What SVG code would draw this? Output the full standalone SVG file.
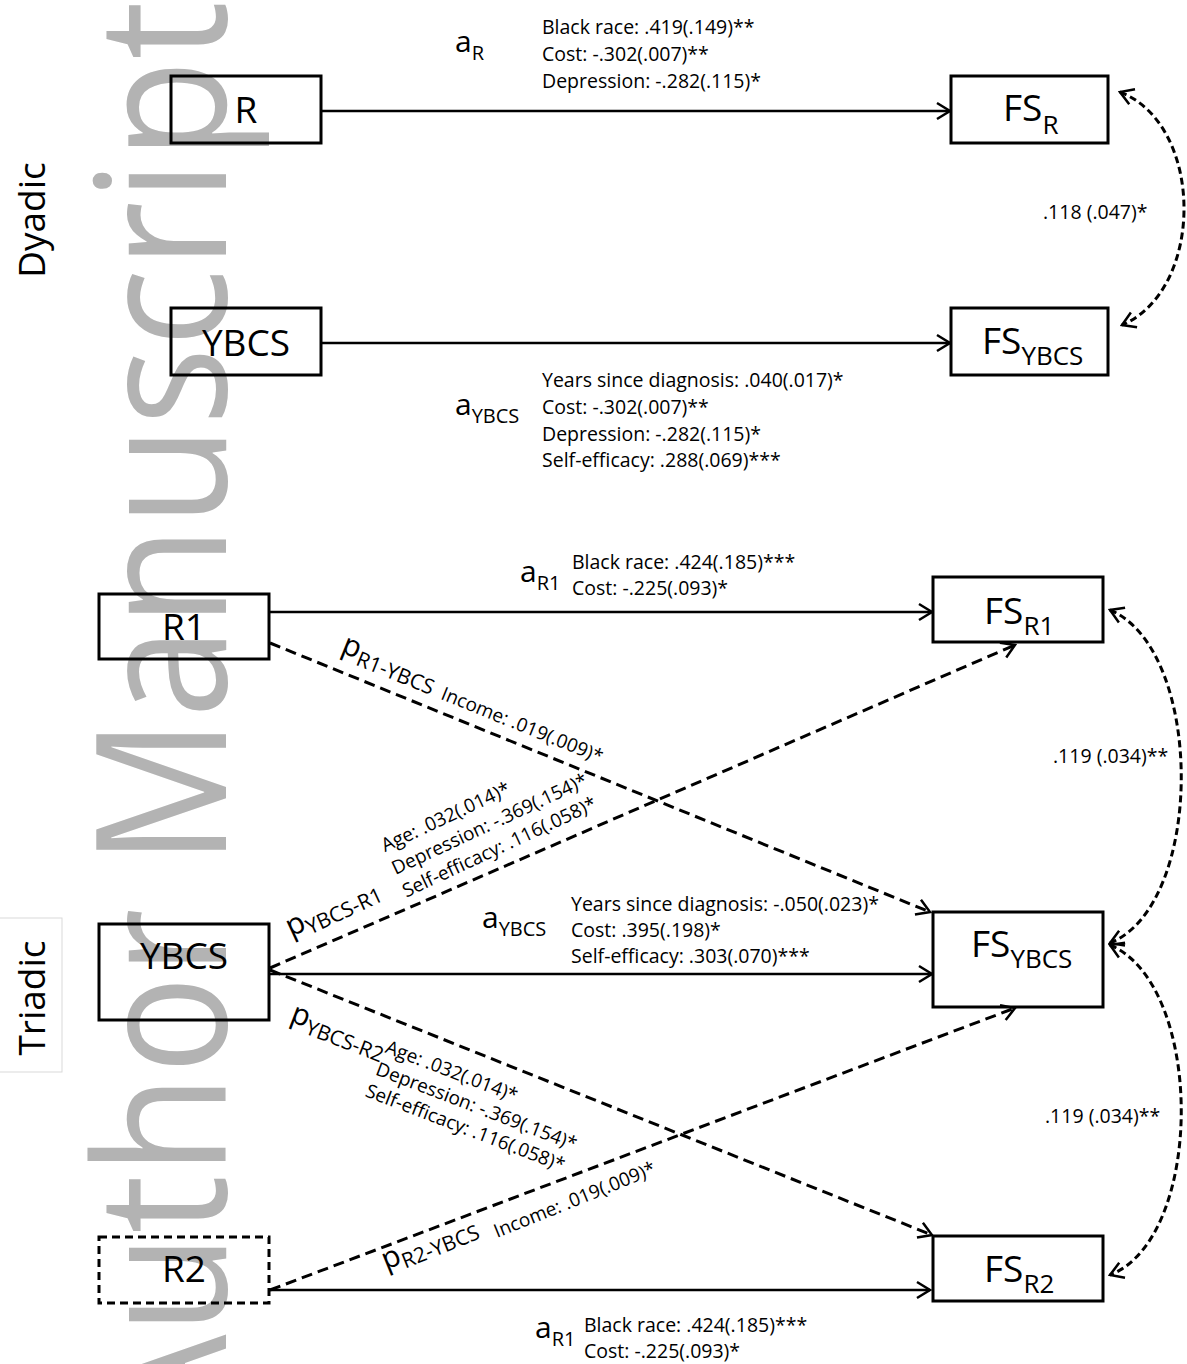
<svg xmlns="http://www.w3.org/2000/svg" width="1187" height="1364" viewBox="0 0 1187 1364">
<style>
.t { font-family: "Open Sans", "Liberation Sans", sans-serif; fill: #000; }
.big { font-size: 37px; }
.fsub { font-size: 26px; }
.lab { font-size: 19.5px; }
.a { font-size: 30px; }
.sub { font-size: 20px; }
.psub { font-size: 21px; }
.rl { font-size: 19px; }
.n { fill: none; stroke: #000; stroke-width: 3; }
.nd { fill: none; stroke: #000; stroke-width: 3; stroke-dasharray: 8 5; }
.solid { fill: none; stroke: #000; stroke-width: 2.5; marker-end: url(#ah); }
.dash { fill: none; stroke: #000; stroke-width: 3; stroke-dasharray: 11 6; marker-end: url(#ah); }
.arc { fill: none; stroke: #000; stroke-width: 3; stroke-dasharray: 7 4; marker-start: url(#ah2); marker-end: url(#ah2); }
.wm { font-family: "Open Sans", "Liberation Sans", sans-serif; fill: #b3b3b3; font-size: 165px; }
</style>
<defs>
<marker id="ah" viewBox="-16 -10 18 20" refX="0" refY="0" markerWidth="18" markerHeight="20" markerUnits="userSpaceOnUse" orient="auto">
<path d="M-13,-8 L0,0 L-13,8" fill="none" stroke="#000" stroke-width="2.5" stroke-dasharray="none"/>
</marker>
<marker id="ah2" viewBox="-16 -10 18 20" refX="0" refY="0" markerWidth="18" markerHeight="20" markerUnits="userSpaceOnUse" orient="auto-start-reverse">
<path d="M-13,-8 L0,0 L-13,8" fill="none" stroke="#000" stroke-width="2.5" stroke-dasharray="none"/>
</marker>
</defs>
<rect width="1187" height="1364" fill="#fff"/>
<g id="watermark">
<text class="wm" transform="translate(226,1438) rotate(-90) scale(1,1.1)" textLength="1437" lengthAdjust="spacingAndGlyphs">Author Manuscript</text>
</g>
<g id="section-labels">
<text class="t big" text-anchor="middle" transform="translate(45,220) rotate(-90)">Dyadic</text>
<rect x="-1" y="918" width="63" height="154" fill="none" stroke="#d9d9d9" stroke-width="1"/>
<text class="t big" text-anchor="middle" transform="translate(45,998) rotate(-90)">Triadic</text>
</g>
<g id="connectors">
<line class="solid" x1="321" y1="111" x2="950" y2="111"/>
<line class="solid" x1="321" y1="343" x2="950" y2="343"/>
<path class="arc" d="M1120,92 C1205,125 1205,290 1122,325"/>
<line class="solid" x1="269" y1="612" x2="932" y2="612"/>
<line class="solid" x1="269" y1="974" x2="932" y2="974"/>
<line class="solid" x1="269" y1="1290" x2="930" y2="1290"/>
<line class="dash" x1="270" y1="643" x2="930" y2="912"/>
<line class="dash" x1="270" y1="968" x2="1015" y2="645"/>
<line class="dash" x1="270" y1="970" x2="932" y2="1235"/>
<line class="dash" x1="270" y1="1290" x2="1015" y2="1008"/>
<path class="arc" d="M1110,610 C1205,650 1205,905 1110,943"/>
<path class="arc" d="M1110,945 C1205,985 1205,1238 1110,1275"/>
</g>
<g id="node-R"><rect class="n" x="171" y="76" width="150" height="67"/><text class="t big" x="246" y="123" text-anchor="middle">R</text></g>
<g id="node-YBCS-d"><rect class="n" x="171" y="308" width="150" height="67"/><text class="t big" x="246" y="356" text-anchor="middle">YBCS</text></g>
<g id="node-FSR"><rect class="n" x="951" y="76" width="157" height="67"/><text class="t big" x="1003" y="121">FS<tspan class="fsub" dy="13">R</tspan></text></g>
<g id="node-FSYBCS-d"><rect class="n" x="951" y="308" width="157" height="67"/><text class="t big" x="982" y="354">FS<tspan class="fsub" dy="11">YBCS</tspan></text></g>
<g id="node-R1"><rect class="n" x="99" y="594" width="170" height="65"/><text class="t big" x="184" y="640" text-anchor="middle">R1</text></g>
<g id="node-YBCS-t"><rect class="n" x="99" y="924" width="170" height="96"/><text class="t big" x="184" y="969" text-anchor="middle">YBCS</text></g>
<g id="node-R2"><rect class="nd" x="99" y="1237" width="170" height="66"/><text class="t big" x="184" y="1282" text-anchor="middle">R2</text></g>
<g id="node-FSR1"><rect class="n" x="933" y="577" width="170" height="65"/><text class="t big" x="984" y="624">FS<tspan class="fsub" dy="11">R1</tspan></text></g>
<g id="node-FSYBCS-t"><rect class="n" x="933" y="912" width="170" height="95"/><text class="t big" x="971" y="957">FS<tspan class="fsub" dy="11">YBCS</tspan></text></g>
<g id="node-FSR2"><rect class="n" x="933" y="1236" width="170" height="65"/><text class="t big" x="984" y="1282">FS<tspan class="fsub" dy="11">R2</tspan></text></g>
<g id="labels">
<text class="t a" x="455" y="52">a<tspan class="sub" dy="8">R</tspan></text>
<text class="t lab" x="542" y="34">Black race: .419(.149)**</text>
<text class="t lab" x="542" y="61">Cost: -.302(.007)**</text>
<text class="t lab" x="542" y="88">Depression: -.282(.115)*</text>
<text class="t lab" x="1043" y="219">.118 (.047)*</text>
<text class="t a" x="455" y="415">a<tspan class="sub" dy="8">YBCS</tspan></text>
<text class="t lab" x="542" y="387">Years since diagnosis: .040(.017)*</text>
<text class="t lab" x="542" y="414">Cost: -.302(.007)**</text>
<text class="t lab" x="542" y="441">Depression: -.282(.115)*</text>
<text class="t lab" x="542" y="467">Self-efficacy: .288(.069)***</text>
<text class="t a" x="520" y="582">a<tspan class="sub" dy="8">R1</tspan></text>
<text class="t lab" x="572" y="569">Black race: .424(.185)***</text>
<text class="t lab" x="572" y="595">Cost: -.225(.093)*</text>
<text class="t lab" x="1053" y="763">.119 (.034)**</text>
<text class="t a" x="482" y="928">a<tspan class="sub" dy="8">YBCS</tspan></text>
<text class="t lab" x="571" y="911">Years since diagnosis: -.050(.023)*</text>
<text class="t lab" x="571" y="937">Cost: .395(.198)*</text>
<text class="t lab" x="571" y="963">Self-efficacy: .303(.070)***</text>
<text class="t lab" x="1045" y="1123">.119 (.034)**</text>
<text class="t a" x="535" y="1338">a<tspan class="sub" dy="8">R1</tspan></text>
<text class="t lab" x="584" y="1332">Black race: .424(.185)***</text>
<text class="t lab" x="584" y="1358">Cost: -.225(.093)*</text>
<g transform="translate(340,652) rotate(22)">
<text class="t a" x="0" y="0">p<tspan class="psub" dy="6">R1-YBCS</tspan></text>
<text class="t rl" x="110" y="6">Income: .019(.009)*</text>
</g>
<g transform="translate(291,937) rotate(-25)">
<text class="t a" x="0" y="0">p<tspan class="psub" dy="6">YBCS-R1</tspan></text>
<text class="t rl" x="121" y="-37">Age: .032(.014)*</text>
<text class="t rl" x="121" y="-12">Depression: -.369(.154)*</text>
<text class="t rl" x="121" y="13">Self-efficacy: .116(.058)*</text>
</g>
<g transform="translate(289,1021) rotate(21)">
<text class="t a" x="0" y="0">p<tspan class="psub" dy="6">YBCS-R2</tspan></text>
<text class="t rl" x="100" y="-5">Age: .032(.014)*</text>
<text class="t rl" x="99" y="19">Depression: -.369(.154)*</text>
<text class="t rl" x="97" y="43">Self-efficacy: .116(.058)*</text>
</g>
<g transform="translate(386,1270) rotate(-22)">
<text class="t a" x="0" y="0">p<tspan class="psub" dy="6">R2-YBCS</tspan></text>
<text class="t rl" x="115" y="12">Income: .019(.009)*</text>
</g>
</g>
</svg>
